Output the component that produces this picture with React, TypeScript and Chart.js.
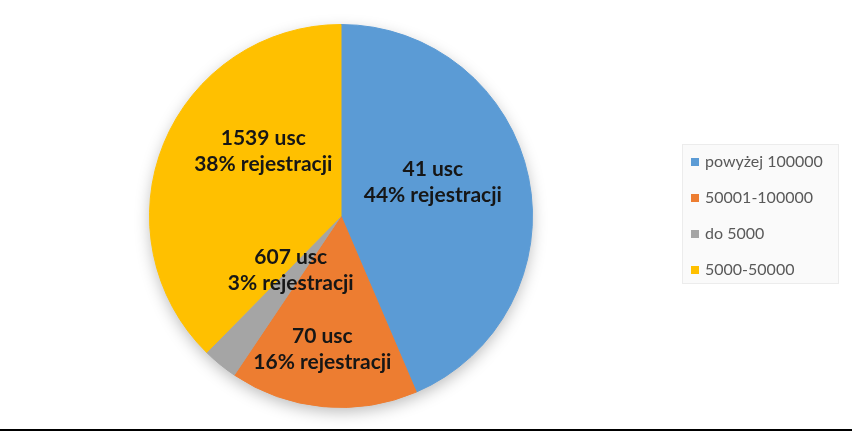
import { useEffect, useRef } from "react"
import { Chart, registerables } from "chart.js"

Chart.register(...registerables)

const categories = ["powyżej 100000", "50001-100000", "do 5000", "5000-50000"]
const registrationShare = [44, 16, 3, 38]
const officeCounts = [41, 70, 607, 1539]
const sliceColors = ["#5B9BD5", "#ED7D31", "#A5A5A5", "#FFC000"]

// where each label sits inside the pie: angle from 12 o'clock (deg) and fraction of radius
const labelAngle = [70, 188, 223, 310]
const labelRadius = [0.51, 0.7, 0.385, 0.53]

const pieShadow = {
  id: "pieShadow",
  beforeDatasetsDraw(chart: any) {
    const arc = chart.getDatasetMeta(0).data[0]
    if (!arc) return
    const { ctx } = chart
    ctx.save()
    ctx.shadowColor = "rgba(0,0,0,0.28)"
    ctx.shadowBlur = 16
    ctx.shadowOffsetY = 5
    ctx.fillStyle = "#ffffff"
    ctx.beginPath()
    ctx.arc(arc.x, arc.y, arc.outerRadius - 1, 0, Math.PI * 2)
    ctx.fill()
    ctx.restore()
  },
}

const sliceLabels = {
  id: "sliceLabels",
  afterDatasetsDraw(chart: any) {
    const { ctx } = chart
    const arcs = chart.getDatasetMeta(0).data
    ctx.save()
    ctx.font = "bold 21px Lato, 'Open Sans', sans-serif"
    ctx.fillStyle = "#161616"
    ctx.textAlign = "center"
    ctx.textBaseline = "middle"
    arcs.forEach((arc: any, i: number) => {
      const a = (labelAngle[i] * Math.PI) / 180
      const r = arc.outerRadius * labelRadius[i]
      const x = arc.x + Math.sin(a) * r
      const y = arc.y - Math.cos(a) * r
      ctx.fillText(`${officeCounts[i]} usc`, x, y - 13)
      ctx.fillText(`${registrationShare[i]}% rejestracji`, x, y + 13)
    })
    ctx.restore()
  },
}

const boxLegend = {
  id: "boxLegend",
  afterDraw(chart: any) {
    const { ctx } = chart
    const left = 682
    const top = 144
    const width = 157
    const height = 140
    ctx.save()
    ctx.fillStyle = "#fafafa"
    ctx.strokeStyle = "#ececec"
    ctx.lineWidth = 1
    ctx.fillRect(left, top, width, height)
    ctx.strokeRect(left + 0.5, top + 0.5, width - 1, height - 1)
    ctx.font = "16px Lato, 'Open Sans', sans-serif"
    ctx.textBaseline = "middle"
    ctx.textAlign = "left"
    chart.data.labels.forEach((label: string, i: number) => {
      const cy = top + 18 + i * 36
      ctx.fillStyle = chart.data.datasets[0].backgroundColor[i]
      ctx.fillRect(left + 9, cy - 4, 8, 8)
      ctx.fillStyle = "#595959"
      ctx.fillText(label, left + 23, cy)
    })
    ctx.restore()
  },
}

const App = () => {
  const chartRef = useRef<HTMLCanvasElement>(null)
  const chartInstance = useRef<Chart | null>(null)

  useEffect(() => {
    if (!chartRef.current) return
    if (chartInstance.current) chartInstance.current.destroy()
    const ctx = chartRef.current.getContext("2d")
    if (!ctx) return

    chartInstance.current = new Chart(ctx, {
      type: "pie",
      data: {
        labels: categories,
        datasets: [
          {
            data: registrationShare,
            backgroundColor: sliceColors,
            borderColor: sliceColors,
            borderWidth: 1,
          },
        ],
      },
      options: {
        responsive: true,
        maintainAspectRatio: false,
        animation: false,
        layout: { padding: { left: 149, top: 24, right: 319, bottom: 21 } },
        plugins: {
          legend: { display: false },
          tooltip: { enabled: false },
        },
      },
      plugins: [pieShadow, sliceLabels, boxLegend],
    })

    return () => {
      if (chartInstance.current) {
        chartInstance.current.destroy()
        chartInstance.current = null
      }
    }
  }, [])

  return (
    <div
      style={{
        position: "fixed",
        left: 0,
        top: 0,
        width: 852,
        height: 429,
        background: "#fff",
        borderBottom: "2px solid #000",
      }}
    >
      <canvas ref={chartRef} />
    </div>
  )
}

export default App
